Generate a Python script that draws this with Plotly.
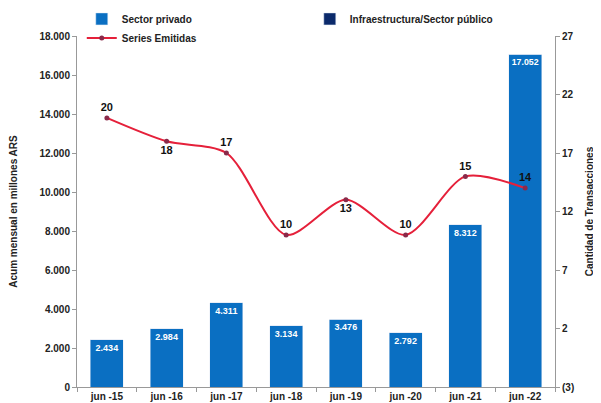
import plotly.graph_objects as go

categories = ["jun -15", "jun -16", "jun -17", "jun -18", "jun -19", "jun -20", "jun -21", "jun -22"]
sector_privado = [2434, 2984, 4311, 3134, 3476, 2792, 8312, 17052]
infra_publico = [0, 0, 0, 0, 0, 0, 0, 0]
series_emitidas = [20, 18, 17, 10, 13, 10, 15, 14]
label_positions = ["top center", "bottom center", "top center", "top center",
                   "bottom center", "top center", "top center", "top center"]
right_tickvals = [-3, 2, 7, 12, 17, 22, 27]
right_ticktext = ["(3)", "2", "7", "12", "17", "22", "27"]

FONT = "Liberation Sans, Arial, sans-serif"
tickfont = dict(family=FONT, size=10, color="#222222", weight="bold")

fig = go.Figure()
fig.add_trace(go.Bar(
    x=categories, y=sector_privado, name="Sector privado",
    marker=dict(color="#0a6fc2"),
    texttemplate="%{y:,.0f}", textposition="inside", insidetextanchor="end",
    textfont=dict(family=FONT, size=9, color="white", weight="bold"),
    textangle=0, legend="legend",
))
fig.add_trace(go.Bar(
    x=categories, y=infra_publico, name="Infraestructura/Sector público",
    marker=dict(color="#0b2a6b"), legend="legend2",
))
fig.add_trace(go.Scatter(
    x=categories, y=series_emitidas, name="Series Emitidas", yaxis="y2",
    mode="lines+markers+text", line=dict(color="#e5203a", width=2, shape="spline", smoothing=0.8),
    marker=dict(color="#8a2a4a", size=5),
    text=[str(v) for v in series_emitidas], textposition=label_positions,
    textfont=dict(family=FONT, size=11, color="#111111", weight="bold"),
    legend="legend",
))

fig.update_layout(
    width=601, height=403,
    margin=dict(l=69, r=54, t=28, b=24, autoexpand=False),
    plot_bgcolor="white", paper_bgcolor="white",
    separators=",.",
    barmode="stack", bargap=0.45,
    showlegend=True,
    legend=dict(x=0.01, y=1.09, xanchor="left", yanchor="top", orientation="v",
                traceorder="normal",
                font=dict(family=FONT, size=10, color="#222222", weight="bold"),
                bgcolor="rgba(0,0,0,0)", tracegroupgap=0, itemwidth=30),
    legend2=dict(x=0.487, y=1.09, xanchor="left", yanchor="top",
                 font=dict(family=FONT, size=10, color="#222222", weight="bold"),
                 bgcolor="rgba(0,0,0,0)", itemwidth=30),
    xaxis=dict(tickfont=tickfont, showline=True, linecolor="#999999", linewidth=1,
               ticks="outside", ticklen=4, tickcolor="#999999", tickson="boundaries",
               showgrid=False, automargin=False),
    yaxis=dict(range=[0, 18000], dtick=2000, tickformat=",.0f", tickfont=tickfont,
               showline=True, linecolor="#999999", linewidth=1, ticks="outside",
               ticklen=4, tickcolor="#999999", showgrid=False, zeroline=False,
               automargin=False,
               title=dict(text="Acum mensual en millones ARS",
                          font=dict(family=FONT, size=10, color="#222222", weight="bold"),
                          standoff=19)),
    yaxis2=dict(range=[-3, 27], overlaying="y", side="right", tickvals=right_tickvals,
                ticktext=right_ticktext, tickfont=tickfont, showline=True,
                linecolor="#999999", linewidth=1, ticks="outside", ticklen=4,
                tickcolor="#999999", showgrid=False, zeroline=False, automargin=False,
                title=dict(text="Cantidad de Transacciones",
                           font=dict(family=FONT, size=10, color="#222222", weight="bold"),
                           standoff=12)),
)

fig.write_html("out.html")
